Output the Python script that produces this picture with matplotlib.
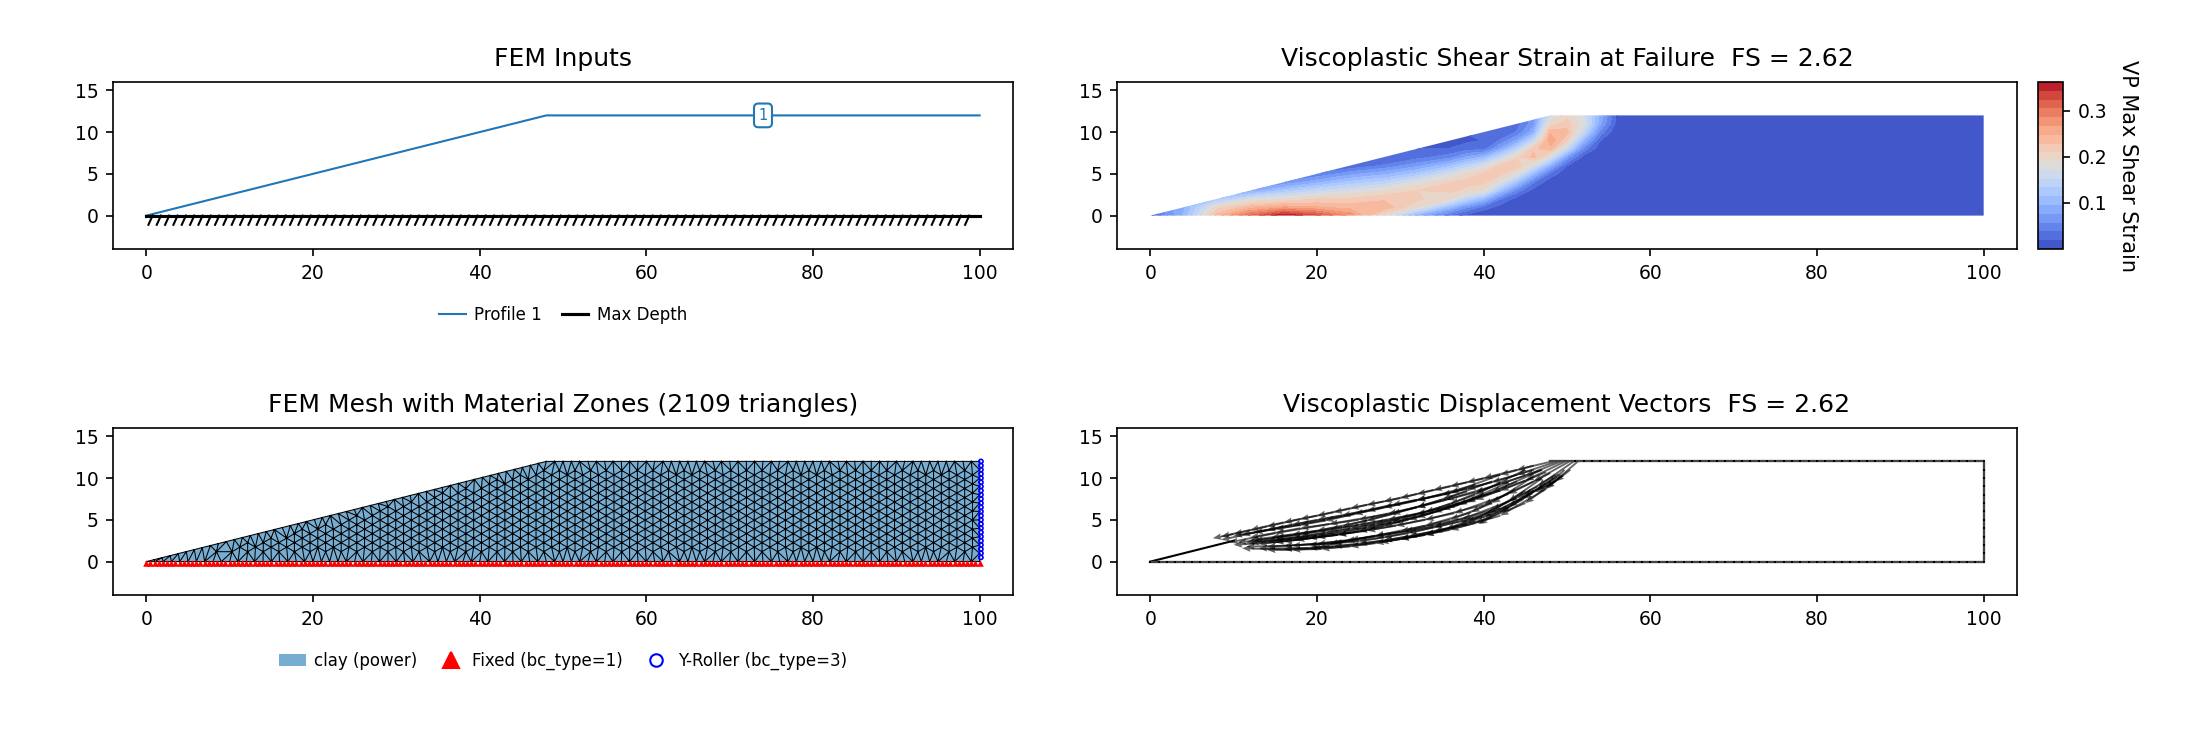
import numpy as np
import matplotlib.pyplot as plt
import matplotlib.tri as tri
from matplotlib.lines import Line2D
from matplotlib.patches import Patch, Polygon

W, H = 2206, 744
fs_value = 2.62
n_triangles = 2109

# ground surface and bottom of the model
surface_x = [0, 48, 100]
surface_y = [0, 12, 12]
depth_x = [0, 100]
depth_y = [0, 0]
outline = [(0, 0), (48, 12), (100, 12), (100, 0)]

# max shear strain on a coarse grid, one row per x, values above the slope get clipped
strain_x = [0, 4, 8, 12, 16, 20, 24, 28, 32, 36, 38, 40, 42, 44, 46, 48, 50, 52, 54, 56, 60, 100]
strain_y = [0, 1, 2, 3, 4, 5, 6, 7, 8, 9, 10, 11, 12]
strain_by_x = [
    [.01, .05, .05, .04, .03, .02, .02, .02, .02, .01, .01, .01, .01],
    [.10, .09, .08, .06, .04, .03, .02, .02, .02, .01, .01, .01, .01],
    [.24, .20, .12, .08, .05, .03, .02, .02, .02, .01, .01, .01, .01],
    [.31, .24, .17, .08, .05, .03, .02, .02, .02, .01, .01, .01, .01],
    [.363, .26, .19, .12, .06, .03, .02, .02, .02, .01, .01, .01, .01],
    [.33, .25, .21, .15, .09, .04, .02, .02, .02, .01, .01, .01, .01],
    [.28, .24, .215, .17, .12, .07, .02, .02, .02, .01, .01, .01, .01],
    [.19, .245, .225, .19, .14, .09, .04, .02, .02, .01, .01, .01, .01],
    [.09, .19, .215, .21, .18, .12, .07, .03, .02, .01, .01, .01, .01],
    [.03, .10, .19, .215, .21, .17, .11, .05, .02, .01, .01, .01, .01],
    [.01, .06, .14, .205, .215, .20, .14, .08, .03, .015, .02, .02, .02],
    [0, .03, .10, .19, .215, .215, .17, .10, .03, .02, .02, .03, .03],
    [0, .01, .04, .11, .18, .215, .215, .15, .08, .04, .02, .02, .03],
    [0, 0, .01, .05, .11, .18, .225, .205, .14, .08, .04, .03, .04],
    [0, 0, 0, .01, .04, .10, .17, .235, .225, .15, .09, .07, .07],
    [0, 0, 0, 0, .005, .03, .09, .17, .24, .265, .245, .20, .17],
    [0, 0, 0, 0, 0, .005, .02, .07, .15, .21, .235, .22, .20],
    [0, 0, 0, 0, 0, 0, .005, .01, .05, .10, .15, .18, .17],
    [0, 0, 0, 0, 0, 0, 0, 0, .005, .02, .05, .08, .09],
    [0, 0, 0, 0, 0, 0, 0, 0, 0, 0, 0, .01, .015],
    [0, 0, 0, 0, 0, 0, 0, 0, 0, 0, 0, 0, 0],
    [0, 0, 0, 0, 0, 0, 0, 0, 0, 0, 0, 0, 0],
]
strain_min, strain_max = 0.0, 0.363

# displaced node paths, crest to toe
paths = [
    [(48.2, 12), (46, 11.5), (44, 11), (42, 10.4), (40, 10), (38, 9.5), (36, 9), (34, 8.6), (32, 8.1),
     (30, 7.6), (28, 7.2), (26, 6.8), (24, 6.4), (22, 5.9), (20, 5.5), (18, 5.1), (16, 4.7), (14, 4.2),
     (12, 3.8), (10, 3.3), (8.5, 3), (7.5, 2.8)],
    [(48.8, 12), (46, 11), (44, 10.4), (41, 9.5), (38, 8.7), (35, 8), (32, 7.4), (29, 6.8), (26, 6.1),
     (23, 5.5), (20, 5), (17, 4.4), (14, 3.8), (11, 3.2), (8.5, 2.6)],
    [(49.3, 12), (47, 11), (45, 10.3), (42, 9.3), (39, 8.3), (35.5, 7.4), (32, 6.5), (28.5, 5.7), (25, 5),
     (21.5, 4.5), (18, 4), (15, 3.4), (12, 2.9), (9.5, 2.3)],
    [(49.8, 12), (47.5, 10.7), (45, 9.7), (42, 8.5), (39, 7.4), (35.5, 6.5), (32, 5.7), (28.5, 5), (25, 4.4),
     (21.5, 3.8), (18, 3.3), (15, 2.8), (12.5, 2.5), (10.5, 2.3)],
    [(50.3, 12), (48, 10.6), (46, 9.6), (43, 8.1), (40, 6.8), (36.5, 5.8), (33, 5), (29.5, 4.3), (26, 3.7),
     (22.5, 3.2), (19, 2.8), (16, 2.4), (13, 2.1), (10, 2)],
    [(50.8, 12), (48.6, 10.4), (46.5, 9), (44, 7.6), (41, 6.2), (37.5, 5.1), (34, 4.2), (30.5, 3.6), (27, 3),
     (23.5, 2.5), (20, 2.1), (17, 1.9), (14, 1.8), (11.5, 1.8)],
    [(51.3, 12), (49.5, 10.3), (47.5, 8.7), (45, 7), (42, 5.5), (39, 4.6), (36, 3.8), (33, 3.2), (30, 2.7),
     (27, 2.2), (24, 1.8), (20.5, 1.5), (17, 1.4), (14, 1.4), (11, 1.6)],
    [(49, 10.5), (47, 9), (44.8, 7.5), (42, 5.9), (39.4, 4.5)],
    [(47, 10), (45, 8.5), (43, 7.2), (40.5, 5.8), (38, 4.6), (35.5, 3.9), (33, 3.2), (30, 2.7), (27.6, 2.3)],
    [(46, 10.2), (43.5, 8.5), (41, 7), (38.5, 5.9), (36, 5), (33, 4.3), (30, 3.6), (27, 3.1), (24, 2.6),
     (21.5, 2.1), (19.5, 1.6)],
    [(43, 9.5), (40, 8.1), (37, 6.8), (34, 5.9), (31, 5), (28, 4.3), (25, 3.6), (22.5, 3.2), (20, 2.9),
     (17.5, 2.6), (15, 2.3)],
    [(41, 9.6), (38, 8.4), (35, 7.4), (32, 6.5), (29, 5.7), (26, 4.9), (23, 4.2), (20, 3.7), (17, 3.2),
     (14.5, 2.9), (12, 2.6)],
    [(42, 10.4), (39, 9.2), (36, 8.2), (32, 7.3), (28, 6.5), (24.5, 5.7), (21, 4.9), (18, 4.4), (15, 3.9),
     (12.5, 3.5), (10, 3.1)],
    [(49.7, 11), (48.8, 10.2), (47.8, 9.2), (46.3, 8.5), (44.8, 8)],
    [(50.4, 11), (49.5, 10.3), (48.6, 9.6), (47.4, 8.9), (46.2, 8.3)],
    [(47, 11), (44, 9.6), (41, 8.3), (38, 7.1), (35, 6.2), (32, 5.3), (29, 4.7), (26, 4.1), (23, 3.5),
     (20, 3.1), (17, 2.7), (14, 2.4), (11.5, 2.3)],
    [(45, 11), (42, 9.4), (39, 8), (36, 6.9), (33, 5.9), (30, 5.1), (27, 4.5), (24, 4), (21, 3.4), (18, 3),
     (15, 2.6), (12, 2.2)],
    [(46, 8.5), (43, 6.4), (40, 5), (37, 4.3), (34, 3.6), (31, 3), (28, 2.5), (25, 2.1), (22, 1.8), (19, 1.6),
     (16, 1.5), (13, 1.6)],
    [(48, 9.6), (45.5, 8), (43, 6.6), (40, 5.4), (37, 4.8), (34, 4.1), (31, 3.4), (28, 2.9), (25, 2.4),
     (22, 2.2), (19, 2), (16, 1.9)],
]

# label marker on the profile line
label_x, label_y = 74, 12


def axes_at(x0, x1, y0, y1):
    return fig.add_axes([x0 / W, 1 - y1 / H, (x1 - x0) / W, (y1 - y0) / H])


def setup(ax, title):
    ax.set_xlim(-4, 104)
    ax.set_ylim(-4, 16)
    ax.set_xticks([0, 20, 40, 60, 80, 100])
    ax.set_yticks([0, 5, 10, 15])
    ax.tick_params(labelsize=9)
    ax.set_title(title, fontsize=12, pad=7.5)


def surface_at(x):
    return np.interp(x, surface_x, surface_y)


def mesh_nodes(size, edge):
    # staggered columns in the interior, evenly spaced nodes on the boundary
    pts = []
    for i, x in enumerate(np.arange(size * 0.866, 100 - 0.4 * size, size * 0.866)):
        y = 1.1 * size if i % 2 == 0 else 1.1 * size + size / 2
        while y < surface_at(x) - 0.6 * size:
            pts.append((x, y))
            y += size
    pts += [(x, 0.0) for x in np.arange(0, 101, edge)]
    pts += [(100.0, y) for y in np.arange(edge, 12, edge)]
    pts += [(x, 12.0) for x in np.arange(48, 101, edge)]
    pts += [(x, x / 4) for x in np.linspace(0, 48, 51)[1:-1]]
    return np.array(pts)


fig = plt.figure(figsize=(W / 150, H / 150), dpi=150)

# model inputs
ax = axes_at(113, 1013, 82, 249)
setup(ax, "FEM Inputs")
ax.plot(surface_x, surface_y, color="tab:blue", lw=1, label="Profile 1")
ax.plot(depth_x, depth_y, color="black", lw=1.5, label="Max Depth")
for x in np.arange(0.75, 99, 1.0):
    ax.plot([x - 0.5, x], [-1.1, 0], color="black", lw=1)
ax.text(label_x, label_y, "1", color="tab:blue", fontsize=7, ha="center", va="center",
        bbox=dict(boxstyle="round,pad=0.3", fc="white", ec="tab:blue", lw=1))
ax.legend(loc="upper center", bbox_to_anchor=(0.5, -0.25), ncol=2, frameon=False, fontsize=8,
          handlelength=1.6, handletextpad=0.5, columnspacing=1.2)

# strain field
ax = axes_at(1117, 2017, 82, 249)
setup(ax, f"Viscoplastic Shear Strain at Failure  FS = {fs_value}")
levels = np.linspace(strain_min, strain_max, 20)
cs = ax.contourf(strain_x, strain_y, np.array(strain_by_x).T, levels=levels, cmap="coolwarm")
cs.set_clip_path(Polygon(outline, transform=ax.transData))
cax = axes_at(2037.5, 2063, 82, 249)
cbar = fig.colorbar(cs, cax=cax, ticks=[0.1, 0.2, 0.3])
cbar.ax.tick_params(labelsize=9)
cbar.set_label("VP Max Shear Strain", rotation=270, labelpad=15, fontsize=10)

# mesh
ax = axes_at(113, 1013, 428, 595)
setup(ax, f"FEM Mesh with Material Zones ({n_triangles} triangles)")
nodes = mesh_nodes(1.08, 1.0)
mesh = tri.Triangulation(nodes[:, 0], nodes[:, 1])
ax.add_patch(Polygon(outline, fc="tab:blue", alpha=0.6, lw=0))
ax.triplot(mesh, color="black", lw=0.5)
fixed_x = np.arange(0, 100.01, 0.5)
roller_y = np.arange(0.5, 12.01, 0.5)
ax.scatter(fixed_x, np.full(len(fixed_x), -0.2), marker="^", s=10, color="red", lw=0, zorder=3)
ax.scatter(np.full(len(roller_y), 100.15), roller_y, marker="o", s=4, facecolor="none",
           edgecolor="blue", lw=0.8, zorder=3)
handles = [
    Patch(fc="tab:blue", alpha=0.6, label="clay (power)"),
    Line2D([], [], ls="none", marker="^", ms=8, color="red", label="Fixed (bc_type=1)"),
    Line2D([], [], ls="none", marker="o", ms=6, mfc="none", mec="blue", label="Y-Roller (bc_type=3)"),
]
ax.legend(handles=handles, loc="upper center", bbox_to_anchor=(0.5, -0.25), ncol=3, frameon=False,
          fontsize=8, handlelength=1.6, handletextpad=0.5, columnspacing=1.2)

# displacement vectors
ax = axes_at(1117, 2017, 428, 595)
setup(ax, f"Viscoplastic Displacement Vectors  FS = {fs_value}")
ax.plot([10, 0], [2.5, 0], color="black", lw=1)
ax.plot([0, 100, 100, 48], [0, 0, 12, 12], color="#444444", lw=1.1)
for x, y in [(np.arange(0, 101), np.zeros(101)), (np.full(13, 100), np.arange(0, 13)),
             (np.arange(51, 101), np.full(50, 12))]:
    ax.plot(x, y, ls="none", marker="s", ms=1, mew=0, color="black")
x0, y0, dx, dy = [], [], [], []
for path in paths:
    # each node's arrow reaches two nodes down the path
    for (xa, ya), (xb, yb) in zip(path[:-2], path[2:]):
        x0.append(xa)
        y0.append(ya)
        dx.append(xb - xa)
        dy.append(yb - ya)
ax.quiver(x0, y0, dx, dy, angles="xy", scale_units="xy", scale=1, color="black", alpha=0.6,
          width=0.0021, headwidth=3.5, headlength=4.5, headaxislength=4)

plt.savefig("out.png", dpi=150)
